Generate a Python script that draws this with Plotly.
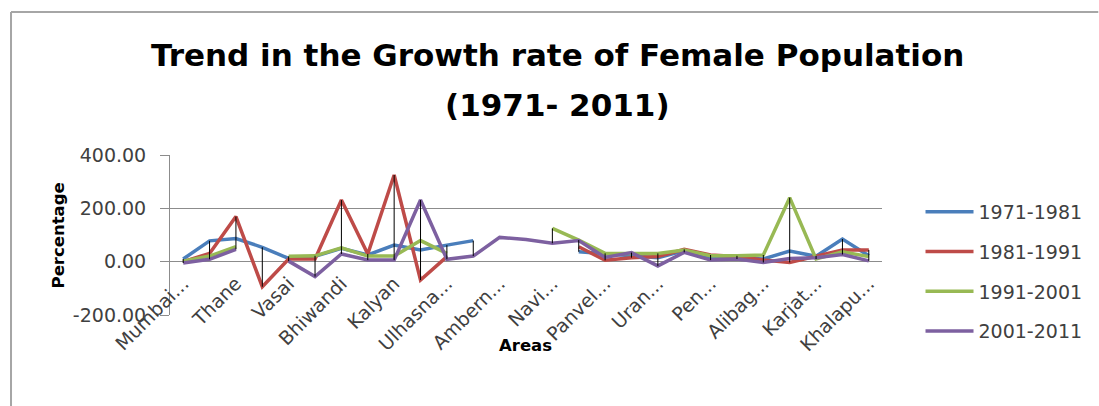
import plotly.graph_objects as go

# ---------------- data ----------------
x_idx = list(range(27))
tick_labels = ["Mumbai...", "", "Thane", "", "Vasai", "", "Bhiwandi", "", "Kalyan", "",
               "Ulhasna...", "", "Ambern...", "", "Navi...", "", "Panvel...", "", "Uran...", "",
               "Pen...", "", "Alibag...", "", "Karjat...", "", "Khalapu..."]

s_1971_1981 = [10, 78, 87, 54, 12, 20, 50, 25, 62, 44, 62, 79, None, None, None, 37,
               30, 20, 15, 41, 15, 15, 10, 40, 20, 85, 22]
s_1981_1991 = [0, 31, 169, -94, 10, 10, 231, 29, 325, -69, 19, None, None, None, None, 56,
               5, 15, 19, 46, 25, 19, 6, -3, 22, 44, 44]
s_1991_2001 = [2, 21, 56, None, 20, 22, 52, 21, 21, 79, 31, None, None, None, 125, 81,
               31, 31, 31, 44, 22, 22, 25, 240, 10, 37, 19]
s_2001_2011 = [-5, 9, 46, None, 2, -56, 29, 6, 6, 231, 9, 21, 91, 83, 69, 79,
               16, 34, -16, 35, 6, 10, -3, 12, 15, 27, 3]

series_names = ["1971-1981", "1981-1991", "1991-2001", "2001-2011"]
series_values = [s_1971_1981, s_1981_1991, s_1991_2001, s_2001_2011]
series_colors = ["#4A7EBB", "#BE4B48", "#98B954", "#7D60A0"]

y_ticks = [-200, 0, 200, 400]
y_tick_labels = ["-200.00", "0.00", "200.00", "400.00"]

# ---------------- figure ----------------
W, H = 1099, 406
ML, MR, MT, MB = 170, 208, 155, 91
PW, PH = W - ML - MR, H - MT - MB


def px_x(px):
    return (px - ML) / PW


def px_y(py):
    return 1 - (py - MT) / PH


fig = go.Figure()
for name, vals, col in zip(series_names, series_values, series_colors):
    fig.add_trace(go.Scatter(
        x=x_idx, y=vals, mode="lines", name=name, legendgroup=name,
        line=dict(color=col, width=3.5), connectgaps=False,
    ))

# high-low lines (Excel style), derived from the series
hl_x, hl_y = [], []
for i in x_idx:
    vals = [s[i] for s in series_values if s[i] is not None]
    if len(vals) >= 2:
        hl_x += [i, i, None]
        hl_y += [min(vals), max(vals), None]
fig.add_trace(go.Scatter(x=hl_x, y=hl_y, mode="lines", showlegend=False,
                         line=dict(color="#000000", width=1), hoverinfo="skip"))

tick_font = dict(family="DejaVu Sans", size=19, color="#404040")

fig.update_layout(
    width=W, height=H,
    margin=dict(l=ML, r=MR, t=MT, b=MB, pad=0),
    paper_bgcolor="white", plot_bgcolor="white",
    showlegend=True,
    legend=dict(
        x=px_x(930), y=px_y(193), xanchor="left", yanchor="top",
        font=dict(family="DejaVu Sans", size=19, color="#404040"),
        traceorder="grouped", tracegroupgap=12, itemwidth=48,
        bgcolor="rgba(0,0,0,0)", maxheight=400,
    ),
    xaxis=dict(
        range=[-0.5, 26.5], tickmode="array", tickvals=x_idx, ticktext=tick_labels,
        tickangle=-45, showgrid=False, zeroline=False, showline=False, ticks="",
        anchor="free", position=0.295, tickfont=tick_font,
    ),
    yaxis=dict(
        range=[-200, 400], tickmode="array", tickvals=y_ticks, ticktext=y_tick_labels,
        showgrid=True, gridcolor="#8C8C8C", gridwidth=1, zeroline=False,
        showline=True, linecolor="#8C8C8C", linewidth=1,
        ticks="outside", ticklen=9, tickcolor="#8C8C8C",
        ticklabelstandoff=10, tickfont=tick_font,
    ),
    annotations=[
        dict(text="<b>Trend in the Growth rate of Female Population</b>",
             x=px_x(562.5), y=px_y(55), xref="paper", yref="paper",
             xanchor="center", yanchor="middle", showarrow=False,
             font=dict(family="DejaVu Sans", size=31, color="#000000")),
        dict(text="<b>(1971- 2011)</b>",
             x=px_x(562.5), y=px_y(105), xref="paper", yref="paper",
             xanchor="center", yanchor="middle", showarrow=False,
             font=dict(family="DejaVu Sans", size=31, color="#000000")),
        dict(text="<b>Percentage</b>", textangle=-90,
             x=px_x(57), y=px_y(235), xref="paper", yref="paper",
             xanchor="center", yanchor="middle", showarrow=False,
             font=dict(family="DejaVu Sans", size=16.5, color="#000000")),
        dict(text="<b>Areas</b>",
             x=px_x(530), y=px_y(345), xref="paper", yref="paper",
             xanchor="center", yanchor="middle", showarrow=False,
             font=dict(family="DejaVu Sans", size=16.5, color="#000000")),
    ],
    shapes=[
        dict(type="line", xref="paper", yref="paper",
             x0=px_x(9), x1=px_x(9), y0=px_y(420), y1=px_y(12),
             line=dict(color="#A6A6A6", width=2)),
        dict(type="line", xref="paper", yref="paper",
             x0=px_x(9), x1=px_x(1110), y0=px_y(12), y1=px_y(12),
             line=dict(color="#A6A6A6", width=2)),
    ],
)

fig.write_html("out.html")
